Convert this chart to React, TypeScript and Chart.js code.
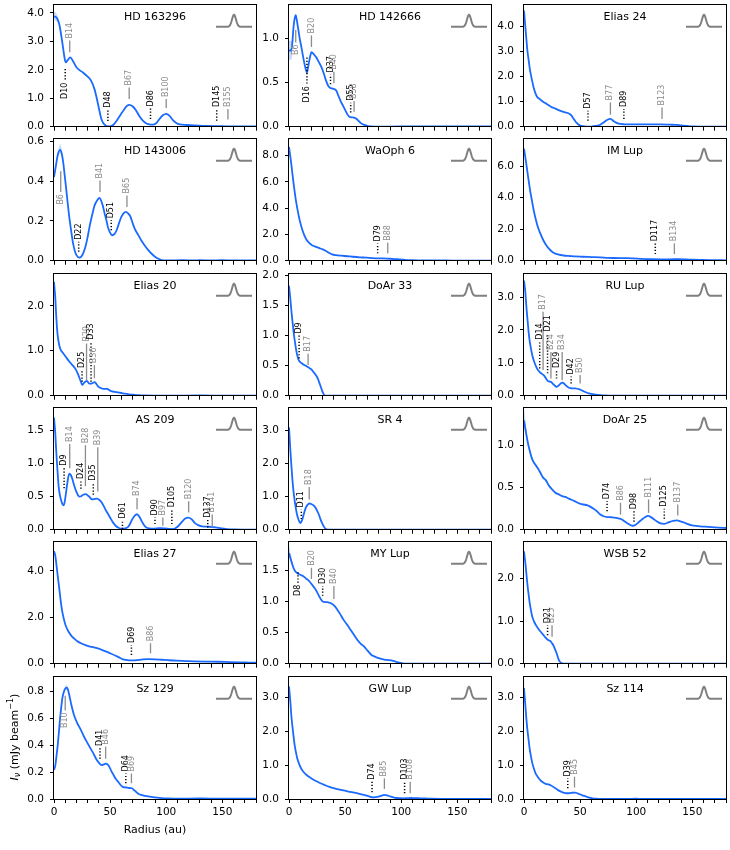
import { useEffect, useRef } from 'react';
import { Chart, registerables } from 'chart.js';

Chart.register(...registerables);
Chart.defaults.font.family = "'DejaVu Sans', sans-serif";

type Pt = [number, number];
// [label, radius, marker start, marker end] in data units
type Ring = [string, number, number, number];
// [radius, low, high]
type Band = [number, number, number];

const NAMES = [
    'HD 163296', 'HD 142666', 'Elias 24',
    'HD 143006', 'WaOph 6', 'IM Lup',
    'Elias 20', 'DoAr 33', 'RU Lup',
    'AS 209', 'SR 4', 'DoAr 25',
    'Elias 27', 'MY Lup', 'WSB 52',
    'Sz 129', 'GW Lup', 'Sz 114',
];

const Y_MAX = [
    4.27, 1.37, 4.85,
    0.61, 9.25, 7.7,
    2.7, 2.02, 3.69,
    1.84, 3.66, 1.445,
    5.23, 1.95, 2.85,
    0.907, 3.6, 3.6,
];

const Y_TICKS = [
    [0, 1, 2, 3, 4], [0, 0.5, 1], [0, 1, 2, 3, 4],
    [0, 0.2, 0.4, 0.6], [0, 2, 4, 6, 8], [0, 2, 4, 6],
    [0, 1, 2], [0, 0.5, 1, 1.5, 2], [0, 1, 2, 3],
    [0, 0.5, 1, 1.5], [0, 1, 2, 3], [0, 0.5, 1],
    [0, 2, 4], [0, 0.5, 1, 1.5], [0, 1, 2],
    [0, 0.2, 0.4, 0.6, 0.8], [0, 1, 2, 3], [0, 1, 2, 3],
];

const X_LABELS = [0, 50, 100, 150];

const hd163296: Pt[] = [[0, 3.88], [2, 3.85], [4, 3.7], [5, 3.55], [6.5, 3.2], [8, 2.8], [9.5, 2.4], [10.5, 2.26], [12, 2.33], [14.5, 2.44], [17, 2.3], [20, 2.09], [23, 1.98], [26, 1.9], [30, 1.76], [33, 1.62], [36, 1.33], [38, 1.02], [40, 0.65], [42, 0.3], [44, 0.12], [46, 0.04], [48, 0.01], [50, 0.01], [53, 0.07], [56, 0.22], [59, 0.4], [62, 0.58], [65, 0.73], [67, 0.77], [70, 0.72], [73, 0.58], [76, 0.38], [79, 0.22], [82, 0.12], [85, 0.08], [88, 0.07], [91, 0.12], [94, 0.27], [97, 0.4], [100, 0.45], [103, 0.38], [106, 0.23], [109, 0.13], [112, 0.08], [118, 0.06], [125, 0.05], [135, 0.03], [145, 0.02], [160, 0.01], [180, 0.01]];
const hd142666: Pt[] = [[0, 0.86], [2, 0.86], [3, 0.95], [4, 1.12], [5, 1.22], [6, 1.26], [7, 1.2], [8, 1.12], [9.5, 1.0], [11, 0.9], [13, 0.76], [14.5, 0.67], [16, 0.61], [17, 0.67], [18, 0.74], [19, 0.8], [20, 0.84], [22, 0.82], [24.4, 0.78], [27, 0.72], [29, 0.67], [31, 0.6], [33, 0.52], [35, 0.46], [36.5, 0.44], [39, 0.43], [42, 0.41], [44, 0.35], [46, 0.29], [48, 0.24], [50, 0.19], [52, 0.14], [54, 0.11], [57, 0.105], [60, 0.09], [62, 0.065], [64, 0.04], [67, 0.02], [70, 0.01], [73, 0.002], [80, 0], [100, 0.003], [120, 0.002], [140, 0.003], [160, 0.002], [180, 0.002]];
const elias24: Pt[] = [[0, 4.64], [1, 4.1], [2, 3.57], [3, 3.05], [4.2, 2.64], [5.2, 2.3], [6.3, 2.04], [7.5, 1.78], [8.6, 1.57], [10, 1.36], [11.6, 1.2], [14, 1.1], [17, 1.0], [20.5, 0.9], [24, 0.8], [28, 0.72], [32, 0.64], [36, 0.58], [40, 0.53], [42, 0.46], [44, 0.33], [46, 0.2], [48, 0.11], [50, 0.05], [52, 0.02], [56, 0], [60, 0.005], [64, 0.03], [68, 0.08], [71, 0.17], [74, 0.27], [77, 0.31], [80, 0.22], [83, 0.14], [86, 0.11], [90, 0.09], [100, 0.09], [110, 0.09], [120, 0.09], [130, 0.08], [136, 0.07], [140, 0.05], [145, 0.03], [150, 0.012], [160, 0.005], [180, 0]];
const hd143006: Pt[] = [[0, 0.42], [1.5, 0.47], [3.3, 0.53], [5.4, 0.557], [7, 0.535], [8.3, 0.49], [9.5, 0.43], [10.7, 0.37], [12, 0.3], [13.6, 0.22], [15.3, 0.15], [17, 0.087], [18.5, 0.05], [20, 0.028], [22.7, 0.015], [24.5, 0.022], [26, 0.037], [28, 0.07], [30, 0.12], [32, 0.18], [34.3, 0.237], [36, 0.275], [37.6, 0.295], [40.5, 0.315], [43.4, 0.278], [45, 0.24], [46.7, 0.203], [48, 0.17], [49.6, 0.145], [52, 0.128], [54, 0.135], [55.8, 0.153], [58, 0.19], [60, 0.22], [62, 0.238], [64, 0.245], [66, 0.238], [68, 0.223], [70, 0.19], [72, 0.16], [75, 0.13], [77.7, 0.103], [81, 0.075], [84, 0.053], [87, 0.035], [90, 0.02], [93, 0.01], [96, 0.003], [100, 0.001], [115, 0.003], [125, 0.001], [130, 0.003], [140, 0.001], [150, 0.003], [160, 0.001], [180, 0.001]];
const waoph6: Pt[] = [[0, 8.67], [1, 8.05], [2, 7.4], [3, 6.65], [4.1, 5.88], [5.3, 5.1], [6.6, 4.36], [8, 3.7], [9.5, 3.09], [11.5, 2.45], [13.6, 1.95], [15.5, 1.62], [17.8, 1.37], [20.5, 1.18], [24, 1.06], [27, 0.96], [30, 0.86], [32, 0.78], [34, 0.68], [36, 0.58], [38.4, 0.48], [42, 0.42], [46.7, 0.38], [52, 0.34], [57, 0.3], [63, 0.26], [69, 0.23], [74, 0.2], [78, 0.18], [84, 0.17], [90, 0.15], [95, 0.12], [98, 0.1], [102, 0.075], [106.6, 0.05], [110, 0.04], [115, 0.03], [125, 0.02], [140, 0.015], [160, 0.01], [180, 0.01]];
const imLup: Pt[] = [[0, 7.11], [1, 6.65], [2, 6.16], [3.2, 5.55], [4.5, 4.9], [5.7, 4.35], [7, 3.84], [8.5, 3.25], [10.3, 2.68], [12.3, 2.15], [14.5, 1.73], [17, 1.33], [19.4, 1.03], [22, 0.78], [25, 0.57], [28, 0.45], [31, 0.38], [35, 0.33], [39, 0.3], [45, 0.27], [52, 0.25], [60, 0.23], [68, 0.21], [75, 0.18], [80, 0.17], [90, 0.16], [97, 0.15], [105, 0.12], [114, 0.1], [122, 0.09], [130, 0.085], [138, 0.1], [145, 0.08], [151, 0.06], [160, 0.05], [167, 0.04], [180, 0.02]];
const elias20: Pt[] = [[0, 2.53], [0.6, 2.35], [1.2, 2.16], [1.8, 1.85], [2.5, 1.57], [3.2, 1.36], [4.1, 1.2], [5, 1.09], [6.2, 1.01], [8, 0.95], [9.5, 0.9], [11.5, 0.83], [13.6, 0.76], [15.7, 0.7], [17.8, 0.64], [19.5, 0.58], [21, 0.5], [22.5, 0.41], [24, 0.31], [25.2, 0.24], [26.3, 0.27], [27.3, 0.3], [29.3, 0.33], [31.4, 0.27], [33.5, 0.27], [35, 0.29], [36.4, 0.3], [38, 0.25], [39.5, 0.2], [42.6, 0.16], [45, 0.15], [47.5, 0.15], [49, 0.13], [51, 0.1], [54, 0.085], [57, 0.074], [60, 0.06], [63, 0.044], [67, 0.03], [71.5, 0.02], [76, 0.012], [80, 0.007], [90, 0.003], [100, 0.002], [130, 0.004], [150, 0.003], [180, 0.002]];
const doar33: Pt[] = [[0, 1.83], [0.6, 1.72], [1.2, 1.61], [1.8, 1.48], [2.5, 1.34], [3.3, 1.2], [4.1, 1.06], [5.1, 0.92], [6.2, 0.78], [7.4, 0.67], [8.7, 0.59], [10, 0.56], [11.6, 0.535], [13.5, 0.51], [15.7, 0.49], [17.8, 0.465], [19.8, 0.44], [22, 0.39], [24, 0.34], [25.8, 0.28], [27.3, 0.2], [28.3, 0.15], [29.3, 0.094], [30.3, 0.045], [31.4, 0.01], [33, 0.002], [60, 0.001], [100, 0.002], [140, 0.001], [180, 0.001]];
const ruLup: Pt[] = [[0, 3.5], [0.6, 3.33], [1.2, 3.15], [1.8, 2.85], [2.5, 2.55], [3.3, 2.25], [4.1, 1.94], [5.1, 1.65], [6.2, 1.43], [7.6, 1.2], [9.1, 1.03], [10.7, 0.89], [12.4, 0.78], [14, 0.72], [15.3, 0.68], [17, 0.64], [18.6, 0.58], [20, 0.5], [21.5, 0.44], [23, 0.43], [24, 0.42], [25.5, 0.37], [27, 0.32], [29, 0.27], [30.5, 0.3], [31.8, 0.34], [33, 0.38], [34.3, 0.4], [35.7, 0.37], [37, 0.32], [40, 0.24], [42.5, 0.225], [45.5, 0.22], [49.6, 0.19], [52, 0.155], [54, 0.12], [56, 0.09], [58, 0.07], [61, 0.045], [64, 0.03], [68, 0.018], [72, 0.01], [80, 0.004], [100, 0.002], [140, 0.002], [180, 0.001]];
const as209: Pt[] = [[0, 1.7], [0.6, 1.58], [1.2, 1.45], [1.8, 1.25], [2.5, 1.05], [3.3, 0.85], [4.1, 0.66], [5.3, 0.52], [6.6, 0.43], [7.6, 0.385], [8.7, 0.37], [9.7, 0.44], [10.7, 0.56], [12, 0.72], [13.6, 0.85], [15, 0.83], [16.5, 0.76], [18, 0.67], [19.8, 0.58], [21.5, 0.52], [23, 0.5], [24.5, 0.51], [26, 0.53], [28.5, 0.54], [30, 0.52], [31.4, 0.5], [33, 0.47], [34.3, 0.46], [36, 0.465], [38.4, 0.47], [40.5, 0.45], [42.6, 0.41], [44.6, 0.35], [46.7, 0.28], [48.8, 0.22], [50.8, 0.16], [53, 0.1], [55, 0.06], [57.5, 0.03], [60, 0.015], [62.5, 0.018], [65.5, 0.035], [67.5, 0.08], [69.8, 0.16], [72, 0.215], [74, 0.234], [76, 0.2], [78, 0.134], [80, 0.075], [82.3, 0.035], [85, 0.02], [88.6, 0.015], [92, 0.02], [94.8, 0.025], [99, 0.02], [103, 0.012], [106, 0.01], [108.5, 0.025], [111, 0.06], [114, 0.12], [117, 0.17], [119.6, 0.184], [122.5, 0.16], [125.6, 0.1], [128.5, 0.07], [132, 0.05], [138, 0.045], [144, 0.035], [149, 0.02], [154, 0.01], [160, 0.004], [170, 0.002], [180, 0.001]];
const sr4: Pt[] = [[0, 3.09], [0.6, 2.75], [1.2, 2.4], [2.2, 1.9], [3.3, 1.4], [4.5, 1.02], [5.8, 0.71], [7, 0.48], [8.3, 0.32], [9.3, 0.24], [10.3, 0.2], [11.3, 0.26], [12.4, 0.37], [13.6, 0.52], [14.9, 0.66], [16.5, 0.75], [18.2, 0.79], [20, 0.77], [22, 0.73], [23.7, 0.66], [25.2, 0.56], [26.7, 0.45], [28, 0.32], [29.5, 0.2], [31, 0.1], [32.2, 0.04], [33.5, 0.01], [36, 0], [60, 0.002], [100, 0.001], [140, 0.002], [180, 0.001]];
const doar25: Pt[] = [[0, 1.3], [1, 1.22], [2, 1.14], [3.5, 1.03], [5, 0.945], [6.5, 0.87], [8.3, 0.81], [10.3, 0.77], [12.4, 0.73], [15.3, 0.66], [17, 0.62], [19.4, 0.59], [22, 0.53], [25, 0.48], [28, 0.44], [31, 0.42], [34, 0.4], [37, 0.39], [40, 0.37], [43.4, 0.35], [46.5, 0.33], [49.6, 0.31], [53, 0.3], [56.6, 0.29], [59, 0.275], [62, 0.25], [65, 0.22], [68, 0.18], [71, 0.16], [74.4, 0.15], [77.5, 0.148], [80.6, 0.145], [84, 0.135], [86.8, 0.125], [89.5, 0.1], [92, 0.078], [94.5, 0.058], [97, 0.047], [99.5, 0.06], [102, 0.086], [105, 0.12], [107.4, 0.145], [110.7, 0.164], [113, 0.15], [115.7, 0.125], [118.5, 0.098], [121, 0.078], [125, 0.07], [127.5, 0.08], [130, 0.094], [133, 0.105], [136.4, 0.11], [139.5, 0.1], [142.5, 0.086], [145.5, 0.07], [148.8, 0.055], [155, 0.043], [161, 0.036], [167, 0.03], [173, 0.025], [180, 0.02]];
const elias27: Pt[] = [[0, 4.85], [1.2, 4.64], [2.2, 4.25], [3.3, 3.79], [4.4, 3.35], [5.4, 2.94], [6.4, 2.55], [7.4, 2.23], [8.8, 1.92], [10.3, 1.66], [12, 1.47], [13.6, 1.33], [15.5, 1.2], [17.8, 1.09], [20.5, 0.98], [24, 0.88], [27, 0.82], [30, 0.77], [34, 0.72], [38.4, 0.67], [42, 0.61], [46.7, 0.52], [51, 0.43], [55, 0.34], [58, 0.27], [61, 0.2], [64, 0.16], [67, 0.14], [70, 0.145], [73.5, 0.156], [78, 0.18], [84, 0.2], [90, 0.19], [96, 0.17], [102, 0.15], [109, 0.13], [117, 0.115], [125, 0.1], [135, 0.09], [146, 0.085], [156, 0.07], [166, 0.057], [173, 0.05], [180, 0.043]];
const myLup: Pt[] = [[0, 1.78], [1.2, 1.7], [2.5, 1.62], [4, 1.54], [5.4, 1.49], [7, 1.46], [8.7, 1.44], [10.5, 1.425], [12.4, 1.41], [15, 1.37], [17.8, 1.33], [20.5, 1.27], [23, 1.21], [25, 1.15], [27.3, 1.07], [29, 1.02], [30, 1.0], [32, 0.99], [34, 0.99], [36, 0.98], [38.4, 0.96], [40.5, 0.93], [42.6, 0.88], [45.5, 0.8], [48.8, 0.7], [52, 0.62], [55, 0.54], [58, 0.46], [61, 0.38], [64, 0.32], [67, 0.275], [70, 0.21], [73.5, 0.14], [77, 0.11], [80, 0.09], [83, 0.075], [86, 0.063], [89, 0.058], [92, 0.05], [95, 0.033], [98.3, 0.016], [101, 0.006], [104.5, 0], [120, 0.001], [140, 0.002], [160, 0.001], [180, 0.001]];
const wsb52: Pt[] = [[0, 2.64], [0.6, 2.5], [1.2, 2.37], [2, 2.15], [2.9, 1.9], [4, 1.65], [5, 1.44], [6.2, 1.25], [7.4, 1.1], [8.8, 1.0], [10.3, 0.92], [12, 0.85], [13.6, 0.79], [15.5, 0.73], [17.4, 0.67], [19, 0.62], [20.7, 0.57], [22, 0.55], [23.6, 0.53], [25, 0.48], [26, 0.44], [27.5, 0.35], [29, 0.25], [30, 0.17], [31, 0.09], [32.2, 0.04], [33.5, 0.015], [35, 0], [60, 0.001], [100, 0.002], [140, 0.001], [180, 0.001]];
const sz129: Pt[] = [[0, 0.216], [1.2, 0.25], [2.2, 0.32], [3.3, 0.4], [4.4, 0.5], [5.4, 0.6], [6.4, 0.68], [7.4, 0.75], [8.8, 0.8], [10.3, 0.825], [11.6, 0.83], [12.6, 0.81], [13.6, 0.775], [15.5, 0.7], [17.8, 0.626], [20.5, 0.57], [24, 0.514], [27, 0.46], [30, 0.415], [33, 0.37], [35.5, 0.333], [37.5, 0.3], [39.7, 0.273], [42.6, 0.253], [44.5, 0.258], [46, 0.263], [48.8, 0.248], [51, 0.21], [53, 0.18], [55, 0.15], [57, 0.13], [59, 0.108], [61, 0.092], [63, 0.087], [65.3, 0.085], [67.5, 0.082], [69.5, 0.08], [71.5, 0.065], [73.5, 0.05], [75.5, 0.037], [77.7, 0.03], [80, 0.026], [84, 0.02], [88, 0.014], [92, 0.01], [96, 0.007], [100, 0.005], [110, 0.002], [130, 0.004], [150, 0.002], [170, 0.003], [180, 0.002]];
const gwLup: Pt[] = [[0, 3.33], [0.6, 3.1], [1.2, 2.88], [2, 2.5], [2.9, 2.19], [4, 1.87], [5, 1.6], [6.2, 1.38], [7.4, 1.2], [9, 1.04], [10.7, 0.91], [13, 0.8], [15.7, 0.71], [19, 0.63], [24, 0.53], [28, 0.465], [32, 0.41], [36, 0.36], [40.5, 0.316], [45, 0.28], [50.8, 0.237], [56, 0.2], [61, 0.168], [65, 0.135], [69.4, 0.1], [72, 0.07], [74.8, 0.05], [77, 0.055], [79.8, 0.07], [82.5, 0.1], [85, 0.12], [87.5, 0.105], [90, 0.08], [93, 0.05], [96, 0.03], [99, 0.022], [102.5, 0.02], [105.5, 0.025], [108.7, 0.03], [112, 0.025], [117, 0.02], [122, 0.015], [127, 0.01], [135, 0.005], [150, 0.002], [165, 0.001], [180, 0.001]];
const sz114: Pt[] = [[0, 3.28], [0.6, 3.02], [1.2, 2.78], [2, 2.42], [2.9, 2.09], [4, 1.78], [5, 1.5], [6.2, 1.26], [7.4, 1.06], [8.8, 0.9], [10.3, 0.76], [12.3, 0.65], [14.5, 0.56], [16.5, 0.5], [18.6, 0.46], [20.3, 0.44], [21.9, 0.43], [24, 0.4], [26, 0.365], [28, 0.32], [30, 0.27], [32.5, 0.225], [35, 0.19], [37, 0.175], [39, 0.17], [41, 0.175], [43, 0.185], [45.5, 0.19], [47.5, 0.17], [49.6, 0.14], [52, 0.11], [54, 0.09], [56, 0.065], [58, 0.04], [61, 0.02], [64, 0.01], [70, 0.004], [90, 0.002], [100, 0.01], [105, 0.002], [130, 0.001], [160, 0.002], [180, 0.001]];

const hd163296Rings: Ring[] = [['D10', 10, 2.03, 1.62], ['B14', 14, 2.62, 3.03], ['D48', 48, 0.2, 0.6], ['B67', 67, 0.97, 1.38], ['D86', 86, 0.27, 0.64], ['B100', 100, 0.66, 0.97], ['D145', 145, 0.21, 0.62], ['B155', 155, 0.25, 0.62]];
const hd142666Rings: Ring[] = [['B6', 6, 1.09, 0.95], ['D16', 16, 0.78, 0.48], ['B20', 20, 0.9, 1.03], ['D37', 37, 0.48, 0.59], ['B40', 40, 0.49, 0.62], ['D55', 55, 0.16, 0.27], ['B58', 58, 0.17, 0.29]];
const elias24Rings: Ring[] = [['D57', 57, 0.24, 0.64], ['B77', 77, 0.48, 0.97], ['D89', 89, 0.31, 0.71], ['B123', 123, 0.31, 0.77]];
const hd143006Rings: Ring[] = [['B6', 6, 0.45, 0.345], ['D22', 22, 0.045, 0.095], ['B41', 41, 0.345, 0.403], ['D51', 51, 0.153, 0.203], ['B65', 65, 0.27, 0.328]];
const waoph6Rings: Ring[] = [['D79', 79, 0.56, 1.32], ['B88', 88, 0.56, 1.37]];
const imLupRings: Ring[] = [['D117', 117, 0.42, 1.1], ['B134', 134, 0.42, 1.1]];
const elias20Rings: Ring[] = [['D25', 25, 0.31, 0.57], ['B29', 29, 0.35, 1.16], ['D33', 33, 0.31, 1.2], ['B36', 36, 0.39, 0.68]];
const doar33Rings: Ring[] = [['D9', 9, 0.62, 1.0], ['B17', 17, 0.51, 0.7]];
const ruLupRings: Ring[] = [['D14', 14, 0.83, 1.64], ['B17', 17, 0.78, 2.55], ['D21', 21, 0.68, 1.89], ['B24', 24, 0.52, 1.33], ['D29', 29, 0.52, 0.78], ['B34', 34, 0.47, 1.33], ['D42', 42, 0.37, 0.58], ['B50', 50, 0.37, 0.63]];
const as209Rings: Ring[] = [['D9', 9, 0.63, 0.94], ['B14', 14, 0.93, 1.3], ['D24', 24, 0.62, 0.74], ['B28', 28, 0.66, 1.28], ['D35', 35, 0.53, 0.71], ['B39', 39, 0.58, 1.25], ['D61', 61, 0.01, 0.14], ['B74', 74, 0.31, 0.48], ['D90', 90, 0.085, 0.185], ['B97', 97, 0.06, 0.185], ['D105', 105, 0.085, 0.31], ['B120', 120, 0.26, 0.43], ['D137', 137, 0.035, 0.15], ['B141', 141, 0.035, 0.23]];
const sr4Rings: Ring[] = [['D11', 11, 0.32, 0.61], ['B18', 18, 0.91, 1.29]];
const doar25Rings: Ring[] = [['D74', 74, 0.22, 0.34], ['B86', 86, 0.18, 0.32], ['D98', 98, 0.094, 0.22], ['B111', 111, 0.2, 0.36], ['D125', 125, 0.13, 0.25], ['B137', 137, 0.17, 0.3]];
const elias27Rings: Ring[] = [['D69', 69, 0.38, 0.81], ['B86', 86, 0.45, 0.88]];
const myLupRings: Ring[] = [['D8', 8, 1.47, 1.3], ['B20', 20, 1.36, 1.54], ['D30', 30, 1.09, 1.25], ['B40', 40, 1.04, 1.25]];
const wsb52Rings: Ring[] = [['D21', 21, 0.67, 0.9], ['B25', 25, 0.63, 0.9]];
const sz129Rings: Ring[] = [['B10', 10, 0.77, 0.66], ['D41', 41, 0.3, 0.38], ['B46', 46, 0.3, 0.39], ['D64', 64, 0.117, 0.19], ['B69', 69, 0.117, 0.19]];
const gwLupRings: Ring[] = [['D74', 74, 0.2, 0.51], ['B85', 85, 0.3, 0.61], ['D103', 103, 0.17, 0.51], ['B108', 108, 0.17, 0.51]];
const sz114Rings: Ring[] = [['D39', 39, 0.32, 0.61], ['B45', 45, 0.34, 0.66]];

const hd163296Band: Band[] = [[0, 3.75, 4.05], [2, 3.73, 4.0], [4, 3.6, 3.82], [5, 3.48, 3.62], [6.5, 3.17, 3.23]];
const hd142666Band: Band[] = [[0, 0.75, 0.97], [2.5, 0.76, 0.97], [3.5, 1.0, 1.06]];
const hd143006Band: Band[] = [[0, 0.41, 0.43], [3.3, 0.52, 0.55], [5.4, 0.545, 0.59], [7, 0.525, 0.56], [8.3, 0.485, 0.5]];
const doar25Band: Band[] = [[0, 1.2, 1.45], [1, 1.15, 1.33], [2, 1.1, 1.2], [3.5, 1.0, 1.07], [5, 0.92, 0.98], [6.5, 0.85, 0.9], [8.3, 0.79, 0.83], [10.3, 0.75, 0.79], [12.4, 0.71, 0.75], [15.3, 0.645, 0.675], [17, 0.605, 0.635], [19.4, 0.575, 0.605], [22, 0.515, 0.545], [25, 0.467, 0.493]];
const myLupBand: Band[] = [[0, 1.7, 1.92], [1.2, 1.64, 1.8], [2.5, 1.58, 1.68], [4, 1.52, 1.57]];
const sz129Band: Band[] = [[8.8, 0.79, 0.81], [10.3, 0.81, 0.845], [11.6, 0.815, 0.85], [12.6, 0.8, 0.825]];
const sz114Band: Band[] = [[0, 3.1, 3.6], [0.6, 2.9, 3.15], [1.2, 2.7, 2.86], [2, 2.38, 2.46]];

const PROFILES = [hd163296, hd142666, elias24, hd143006, waoph6, imLup, elias20, doar33, ruLup, as209, sr4, doar25, elias27, myLup, wsb52, sz129, gwLup, sz114];
const RINGS = [hd163296Rings, hd142666Rings, elias24Rings, hd143006Rings, waoph6Rings, imLupRings, elias20Rings, doar33Rings, ruLupRings, as209Rings, sr4Rings, doar25Rings, elias27Rings, myLupRings, wsb52Rings, sz129Rings, gwLupRings, sz114Rings];
const BANDS: (Band[] | null)[] = [hd163296Band, hd142666Band, null, hd143006Band, null, null, null, null, null, null, null, doar25Band, null, myLupBand, null, sz129Band, null, sz114Band];

const COL_LEFT = [54, 289, 524];
const ROW_TOP = [5, 139, 274, 408, 542, 677];
const PLOT_W = 202;
const PLOT_H = 122;
const PAD_L = 54;
const PAD_T = 12;
const PAD_R = 10;

const BLUE = '#1a6aff';
const GREY = '#8c8c8c';
const FONT = '"DejaVu Sans", sans-serif';

function drawYLabel(ctx: CanvasRenderingContext2D, x: number, y: number) {
    const parts = [
        { t: 'I', f: `italic 11px ${FONT}`, dy: 0 },
        { t: 'ν', f: `italic 8px ${FONT}`, dy: 2.5 },
        { t: ' (mJy beam', f: `11px ${FONT}`, dy: 0 },
        { t: '−1', f: `8px ${FONT}`, dy: -4.5 },
        { t: ')', f: `11px ${FONT}`, dy: 0 },
    ];
    let total = 0;
    for (const p of parts) {
        ctx.font = p.f;
        total += ctx.measureText(p.t).width;
    }
    ctx.save();
    ctx.translate(x, y);
    ctx.rotate(-Math.PI / 2);
    ctx.fillStyle = '#000';
    ctx.textBaseline = 'middle';
    ctx.textAlign = 'left';
    let cx = -total / 2;
    for (const p of parts) {
        ctx.font = p.f;
        ctx.fillText(p.t, cx, p.dy);
        cx += ctx.measureText(p.t).width;
    }
    ctx.restore();
}

function Panel({ index }: { index: number }) {
    const canvasRef = useRef<HTMLCanvasElement>(null);
    const row = Math.floor(index / 3);
    const col = index % 3;
    const bottomRow = row === 5;
    const padB = bottomRow ? 44 : 12;
    const width = PAD_L + PLOT_W + PAD_R;
    const height = PAD_T + PLOT_H + padB;
    const left = COL_LEFT[col] - PAD_L;
    const top = ROW_TOP[row] - PAD_T;

    useEffect(() => {
        if (!canvasRef.current) return;

        const datasets: any[] = [{
            data: PROFILES[index].map(([x, y]) => ({ x, y })),
            borderColor: BLUE,
            borderWidth: 1.8,
            pointRadius: 0,
            cubicInterpolationMode: 'monotone',
            fill: false,
        }];
        const band = BANDS[index];
        if (band) {
            datasets.push({
                data: band.map(([x, , hi]) => ({ x, y: hi })),
                borderColor: 'transparent',
                borderWidth: 0,
                pointRadius: 0,
                backgroundColor: 'rgba(26, 106, 255, 0.25)',
                fill: '+1',
            });
            datasets.push({
                data: band.map(([x, lo]) => ({ x, y: lo })),
                borderColor: 'transparent',
                borderWidth: 0,
                pointRadius: 0,
                fill: false,
            });
        }

        const panelPlugin = {
            id: 'panelDecor',
            afterDatasetsDraw(chart: Chart) {
                const { ctx, scales } = chart;
                const xs = scales.x;
                const ys = scales.y;
                for (const [label, r, y0, y1] of RINGS[index]) {
                    const gap = label.startsWith('D');
                    const x = xs.getPixelForValue(r);
                    const p0 = ys.getPixelForValue(y0);
                    const p1 = ys.getPixelForValue(y1);
                    const up = p1 < p0;
                    ctx.save();
                    ctx.strokeStyle = gap ? '#000' : GREY;
                    ctx.lineWidth = gap ? 1.5 : 1.3;
                    ctx.setLineDash(gap ? [1.2, 1.9] : []);
                    ctx.beginPath();
                    ctx.moveTo(x, p0);
                    ctx.lineTo(x, p1);
                    ctx.stroke();
                    ctx.restore();

                    ctx.save();
                    ctx.translate(x, p1 + (up ? -2 : 2));
                    ctx.rotate(-Math.PI / 2);
                    ctx.font = `8px ${FONT}`;
                    ctx.fillStyle = gap ? '#000' : GREY;
                    ctx.textBaseline = 'middle';
                    ctx.textAlign = up ? 'left' : 'right';
                    ctx.fillText(label, 0, 0);
                    ctx.restore();
                }
            },
            afterDraw(chart: Chart) {
                const { ctx, chartArea } = chart;
                const { left: l, top: t, right: r, bottom: b } = chartArea;
                ctx.save();
                ctx.strokeStyle = '#000';
                ctx.lineWidth = 1;
                ctx.strokeRect(Math.round(l) - 0.5, Math.round(t) - 0.5, Math.round(r - l) + 1, Math.round(b - t) + 1);

                ctx.fillStyle = '#000';
                ctx.font = `11px ${FONT}`;
                ctx.textAlign = 'center';
                ctx.textBaseline = 'middle';
                ctx.fillText(NAMES[index], (l + r) / 2, t + 11.5);

                // beam profile icon
                const bx0 = r - 40;
                const bx1 = r - 4;
                const by = t + 21.5;
                const bc = r - 22;
                ctx.beginPath();
                for (let x = bx0; x <= bx1; x += 0.5) {
                    const y = by - 12 * Math.exp(-((x - bc) ** 2) / 8);
                    if (x === bx0) ctx.moveTo(x, y);
                    else ctx.lineTo(x, y);
                }
                ctx.strokeStyle = '#808080';
                ctx.lineWidth = 2;
                ctx.stroke();

                if (index === 15) {
                    ctx.fillStyle = '#000';
                    ctx.font = `11px ${FONT}`;
                    ctx.textAlign = 'center';
                    ctx.textBaseline = 'middle';
                    ctx.fillText('Radius (au)', (l + r) / 2, 830 - top);
                    drawYLabel(ctx, 15 - left, 737 - top);
                }
                ctx.restore();
            },
        };

        const axisGrid = {
            drawOnChartArea: false,
            drawTicks: true,
            tickLength: 4,
            color: '#000',
            lineWidth: 1,
        };

        const chart = new Chart(canvasRef.current, {
            type: 'line',
            data: { datasets },
            options: {
                animation: false,
                responsive: false,
                events: [],
                layout: { padding: { left: 0, top: PAD_T, right: PAD_R, bottom: 0 } },
                plugins: {
                    legend: { display: false },
                    tooltip: { enabled: false },
                },
                scales: {
                    x: {
                        type: 'linear',
                        min: 0,
                        max: 180,
                        afterFit: (s: any) => { s.height = padB; },
                        ticks: {
                            stepSize: 10,
                            autoSkip: false,
                            maxRotation: 0,
                            padding: 3,
                            color: '#000',
                            font: { size: 10.5 },
                            callback: (v: any) => (bottomRow && X_LABELS.includes(Number(v)) ? String(v) : ''),
                        },
                        grid: axisGrid,
                        border: { display: false },
                    },
                    y: {
                        type: 'linear',
                        min: 0,
                        max: Y_MAX[index],
                        afterFit: (s: any) => { s.width = PAD_L; },
                        afterBuildTicks: (s: any) => {
                            s.ticks = Y_TICKS[index].map(v => ({ value: v }));
                        },
                        ticks: {
                            padding: 6,
                            color: '#000',
                            font: { size: 10.5 },
                            callback: (v: any) => Number(v).toFixed(1),
                        },
                        grid: axisGrid,
                        border: { display: false },
                    },
                },
            },
            plugins: [panelPlugin],
        } as any);

        return () => {
            chart.destroy();
        };
    }, [index]);

    return (
        <canvas
            ref={canvasRef}
            width={width}
            height={height}
            style={{ position: 'absolute', left, top, width, height }}
        />
    );
}

export default function App() {
    return (
        <div style={{ position: 'absolute', left: 0, top: 0, width: 730, height: 850, background: '#fff' }}>
            {NAMES.map((name, i) => (
                <Panel key={name} index={i} />
            ))}
        </div>
    );
}
